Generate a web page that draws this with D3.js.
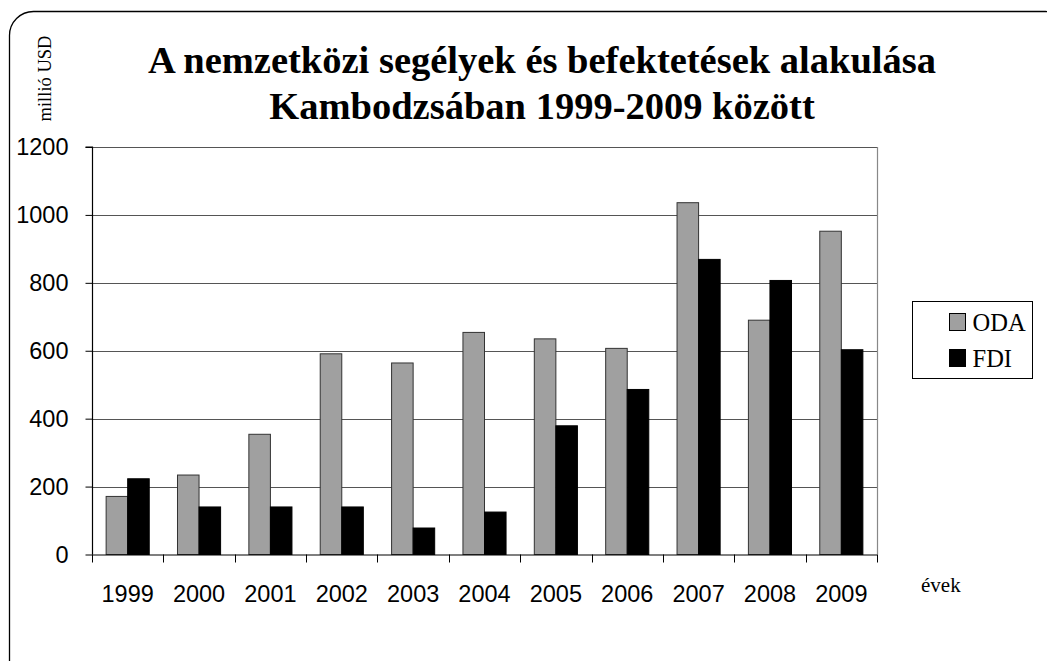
<!DOCTYPE html>
<html><head><meta charset="utf-8">
<script src="https://cdn.jsdelivr.net/npm/d3@7"></script>
<style>body{margin:0;background:#fff}svg{display:block}</style>
</head><body>
<svg id="c" width="1047" height="661"></svg>
<script>
const years = ["1999","2000","2001","2002","2003","2004","2005","2006","2007","2008","2009"];
const oda = [171, 234, 354, 591, 564, 654, 635, 607, 1036, 690, 952];
const fdi = [223, 140, 140, 140, 78, 125, 379, 486, 869, 807, 603];
const seriesNames = ["ODA","FDI"];
const yTicks = [0,200,400,600,800,1000,1200];
const titleLines = ["A nemzetközi segélyek és befektetések alakulása","Kambodzsában 1999-2009 között"];

const svg = d3.select("#c");
const m = {left:92, right:877, top:147, bottom:554.5};
const colors = {ODA:"#a0a0a0", FDI:"#000000"};
const sans = "Liberation Sans, Arial, sans-serif";
const serif = "Liberation Serif, Times New Roman, serif";

// outer rounded frame
svg.append("rect").attr("x",9.5).attr("y",11.5).attr("width",1060).attr("height",680)
  .attr("rx",24).attr("ry",24).attr("fill","none").attr("stroke","#000").attr("stroke-width",1.3);

const x = d3.scaleBand().domain(years).range([m.left,m.right]).padding(0);
const y = d3.scaleLinear().domain([0,1200]).range([m.bottom,m.top]);

// gridlines
svg.append("g").selectAll("line").data(yTicks.filter(d=>d>0)).join("line")
  .attr("x1",m.left).attr("x2",m.right)
  .attr("y1",d=>Math.round(y(d))+0.5).attr("y2",d=>Math.round(y(d))+0.5)
  .attr("stroke","#555").attr("stroke-width",1);
// right border
svg.append("line").attr("x1",m.right+0.5).attr("x2",m.right+0.5).attr("y1",m.top).attr("y2",m.bottom)
  .attr("stroke","#888").attr("stroke-width",1.2);

// bars
const bw = x.step()*0.302;
const data = [];
years.forEach((yr,i)=>{
  data.push({yr, s:"ODA", v:oda[i], k:0});
  data.push({yr, s:"FDI", v:fdi[i], k:1});
});
svg.append("g").selectAll("rect").data(data).join("rect")
  .attr("x",d=>x(d.yr)+x.bandwidth()/2 - bw + d.k*bw)
  .attr("y",d=>y(d.v))
  .attr("width",bw)
  .attr("height",d=>m.bottom-y(d.v))
  .attr("fill",d=>colors[d.s])
  .attr("stroke",d=>d.s==="ODA"?"#333":"#000")
  .attr("stroke-width",1);

// y axis
const yAxis = d3.axisLeft(y).tickValues(yTicks).tickFormat(d3.format("d")).tickSize(7).tickPadding(17);
const ga = svg.append("g").attr("transform",`translate(${m.left+0.5},0)`).call(yAxis);
ga.select(".domain").attr("stroke","#000").attr("stroke-width",1.2).attr("d",`M-7,${m.top}H0V${m.bottom}`);
ga.selectAll(".tick line").attr("stroke","#000");
ga.selectAll(".tick text").attr("font-family",sans).attr("font-size",23.5).attr("fill","#000");

// x axis
const xAxis = d3.axisBottom(x).tickSize(0).tickPadding(0);
const gx = svg.append("g").attr("transform",`translate(0,${m.bottom+0.5})`).call(xAxis);
gx.select(".domain").attr("stroke","#000").attr("stroke-width",1.2).attr("d",`M${m.left},0H${m.right}`);
gx.selectAll(".tick text").attr("font-family",sans).attr("font-size",23.5).attr("fill","#000")
  .attr("y",47).attr("dy",0);
// x boundary tick marks
const bounds = years.map(d=>x(d)).concat([m.right]);
svg.append("g").selectAll("line").data(bounds).join("line")
  .attr("x1",d=>Math.round(d)+0.5).attr("x2",d=>Math.round(d)+0.5)
  .attr("y1",m.bottom).attr("y2",m.bottom+8).attr("stroke","#000").attr("stroke-width",1);

// title
svg.append("g").selectAll("text").data(titleLines).join("text")
  .attr("x",542).attr("y",(d,i)=>72.5+i*46.5)
  .attr("text-anchor","middle")
  .attr("font-family",serif).attr("font-weight","bold")
  .attr("font-size",38.5).text(d=>d);

// y label
svg.append("text").attr("transform","translate(51,78.5) rotate(-90)")
  .attr("text-anchor","middle").attr("font-family",serif)
  .attr("font-size",18.5).text("millió USD");

// x label
svg.append("text").attr("x",921).attr("y",592)
  .attr("font-family",serif)
  .attr("font-size",21).text("évek");

// legend
const lg = svg.append("g");
lg.append("rect").attr("x",912.5).attr("y",301.5).attr("width",120).attr("height",77)
  .attr("fill","#fff").attr("stroke","#000").attr("stroke-width",1);
const li = lg.selectAll("g.item").data(seriesNames).join("g").attr("class","item")
  .attr("transform",(d,i)=>`translate(949.5,${313.5+i*36})`);
li.append("rect").attr("width",16).attr("height",17).attr("fill",d=>colors[d]).attr("stroke","#000").attr("stroke-width",1);
li.append("text").attr("x",23).attr("y",17).attr("font-family",serif)
  .attr("font-size",24.5).text(d=>d);
</script>
</body></html>
